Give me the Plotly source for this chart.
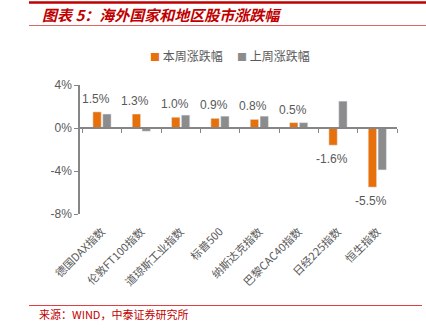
import plotly.graph_objects as go

categories = ["德国DAX指数", "伦敦FT100指数", "道琼斯工业指数", "标普500",
              "纳斯达克指数", "巴黎CAC40指数", "日经225指数", "恒生指数"]
this_week = [1.5, 1.3, 1.0, 0.9, 0.8, 0.5, -1.6, -5.5]
last_week = [1.3, -0.3, 1.2, 1.1, 1.1, 0.5, 2.5, -3.9]
y_ticks = [-8, -4, 0, 4]
y_tick_labels = ["-8%", "-4%", "0%", "4%"]
series_names = ["本周涨跌幅", "上周涨跌幅"]
title_text = "图表 5：海外国家和地区股市涨跌幅"
source_text = "来源：WIND，中泰证券研究所"

W, H = 426, 328
L, R, T, B = 80, 29, 85, 114
PW, PH = W - L - R, H - T - B
ORANGE = "#E8700A"
GRAY = "#8C8C8C"
TXT = "#595959"
RED = "#C00000"
FONT = "Noto Sans CJK SC"
LATIN = "Liberation Sans, Arial"
ymin, ymax = -8, 4


def px(x):
    return (x - L) / PW


def py(y):
    return (H - B - y) / PH


fig = go.Figure()
fig.add_trace(go.Bar(x=categories, y=this_week, name=series_names[0],
                     marker_color=ORANGE, hoverinfo="skip", showlegend=False))
fig.add_trace(go.Bar(x=categories, y=last_week, name=series_names[1],
                     marker_color=GRAY, hoverinfo="skip", showlegend=False))
# carrier for bottom label axis
fig.add_trace(go.Scatter(x=categories, y=[0] * len(categories), xaxis="x2",
                         mode="markers", marker=dict(opacity=0),
                         showlegend=False, hoverinfo="skip"))

annotations = []
for c, v in zip(categories, this_week):
    annotations.append(dict(x=c, y=v, xref="x", yref="y", text=f"{v:.1f}%",
                            showarrow=False, xshift=-6,
                            yshift=13 if v >= 0 else -14,
                            font=dict(family=LATIN, size=12, color=TXT)))

# legend (drawn as text)
for name, col, xpix in zip(series_names, [ORANGE, GRAY], [148, 235]):
    annotations.append(dict(x=px(xpix), y=py(55), xref="paper", yref="paper",
                            xanchor="left", yanchor="middle", showarrow=False,
                            text=f"<span style='color:{col};font-size:10px'>■</span> {name}",
                            font=dict(family=FONT, size=12, color=TXT)))

annotations.append(dict(x=px(40), y=py(15), xref="paper", yref="paper",
                        xanchor="left", yanchor="middle", showarrow=False,
                        text=f"<b><i>{title_text}</i></b>",
                        font=dict(family=FONT, size=15, color=RED)))
annotations.append(dict(x=px(37), y=py(314), xref="paper", yref="paper",
                        xanchor="left", yanchor="middle", showarrow=False,
                        text=source_text,
                        font=dict(family=FONT, size=11, color=RED)))

shapes = [
    dict(type="line", xref="paper", yref="paper", x0=px(29), x1=px(426),
         y0=py(2.5), y1=py(2.5), line=dict(color=RED, width=2.5)),
    dict(type="line", xref="paper", yref="paper", x0=px(29), x1=px(426),
         y0=py(25.5), y1=py(25.5), line=dict(color="#E06666", width=1)),
    dict(type="line", xref="paper", yref="paper", x0=px(29), x1=px(422),
         y0=py(305.5), y1=py(305.5), line=dict(color="#E04040", width=1)),
]

fig.update_layout(
    width=W, height=H,
    margin=dict(l=L, r=R, t=T, b=B, pad=0),
    paper_bgcolor="white", plot_bgcolor="white",
    barmode="group", bargap=0.5, bargroupgap=0.15,
    font=dict(family=FONT, size=11, color=TXT),
    showlegend=False,
    xaxis=dict(type="category", anchor="free", position=(0 - ymin) / (ymax - ymin),
               showticklabels=False, showline=True, linecolor="#868686", linewidth=1.5,
               ticks="outside", tickson="boundaries", ticklen=4, tickcolor="#868686",
               showgrid=False, zeroline=False, fixedrange=True),
    xaxis2=dict(type="category", matches="x", anchor="y", overlaying="x",
                showline=False, showgrid=False, zeroline=False, ticks="",
                tickangle=-45, tickfont=dict(family=FONT, size=11, color=TXT),
                ticklabelstandoff=8),
    yaxis=dict(range=[ymin, ymax], tickmode="array", tickvals=y_ticks,
               ticktext=y_tick_labels,
               showline=True, linecolor="#868686", linewidth=1.5,
               ticks="outside", ticklen=4, tickcolor="#868686",
               showgrid=False, zeroline=False,
               tickfont=dict(family=LATIN, size=12, color=TXT)),
    annotations=annotations,
    shapes=shapes,
)

fig.write_html("out.html")
